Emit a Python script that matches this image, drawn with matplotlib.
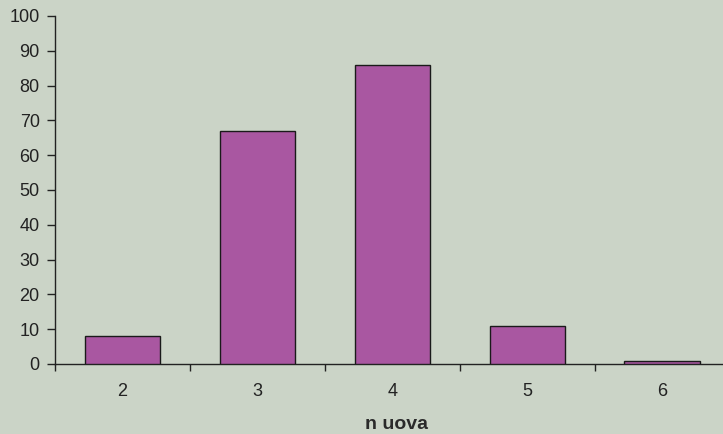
import matplotlib
matplotlib.use("Agg")
import matplotlib.pyplot as plt
import numpy as np

categories = ["2", "3", "4", "5", "6"]
values = [8, 67, 86, 11, 1]
y_ticks = list(range(0, 101, 10))

bg = "#cbd4c7"
bar_color = "#a957a1"
ink = "#222222"

plt.rcParams["font.family"] = ["Liberation Sans", "DejaVu Sans"]

fig = plt.figure(figsize=(7.23, 4.34), dpi=100, facecolor=bg)
ax = fig.add_axes([55 / 723, (434 - 364) / 434, 1 - 55 / 723, 348 / 434])
ax.set_facecolor(bg)

x = np.arange(len(categories))
ax.bar(x, values, width=0.56, color=bar_color, edgecolor="#1a1a1a", linewidth=1.0, zorder=3)

ax.set_xlim(-0.5, 4.45)
ax.set_ylim(0, 100)
ax.set_yticks(y_ticks)
ax.set_yticklabels([str(t) for t in y_ticks], fontsize=13, color=ink)

# category labels centred, ticks between categories
ax.set_xticks(np.arange(-0.5, 4.5, 1.0))
ax.set_xticklabels([])
ax.set_xticks(x, minor=True)
ax.set_xticklabels(categories, minor=True, fontsize=13, color=ink)
ax.tick_params(axis="x", which="minor", length=0, pad=14)
ax.tick_params(axis="x", which="major", length=5, width=1, color=ink, direction="out")
ax.tick_params(axis="y", length=6, width=1, color=ink, direction="out", pad=5)

for s in ["top", "right"]:
    ax.spines[s].set_visible(False)
for s in ["left", "bottom"]:
    ax.spines[s].set_color(ink)
    ax.spines[s].set_linewidth(1.0)

# axis title under the tick labels, centred on the middle category
ax.text(2.03, -0.188, "n uova", transform=ax.get_xaxis_transform(),
        fontsize=14, fontweight="bold", color="#2a2a2a", ha="center", va="baseline")

fig.savefig("out.png", dpi=100, facecolor=bg)
